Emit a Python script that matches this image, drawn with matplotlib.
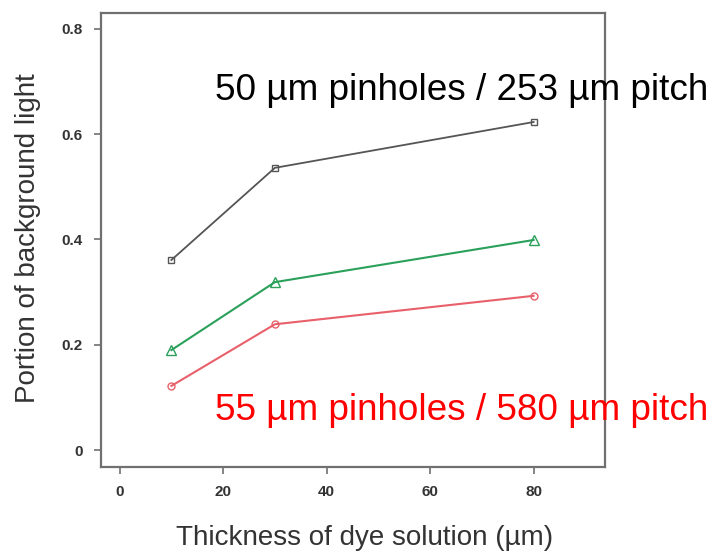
import matplotlib.pyplot as plt

# thickness of dye solution (um)
thickness = [10, 30, 80]
# portion of background light for the three configurations
black_vals = [0.361, 0.536, 0.623]
green_vals = [0.190, 0.319, 0.399]
red_vals = [0.122, 0.239, 0.293]

xticks = [0, 20, 40, 60, 80]
yticks = [0, 0.2, 0.4, 0.6, 0.8]
ytick_labels = ['0', '0.2', '0.4', '0.6', '0.8']

fig = plt.figure(figsize=(7.18, 5.53), dpi=100)
ax = fig.add_axes([0.1407, 0.1555, 0.7019, 0.8210])

ax.plot(thickness, black_vals, color='#555555', lw=1.3, marker='s', ms=5,
        mfc='none', mew=1.0)
ax.plot(thickness, green_vals, color='#2aa05a', lw=1.5, marker='^', ms=7,
        mfc='none', mew=1.0)
ax.plot(thickness, red_vals, color='#e8606a', lw=1.5, marker='o', ms=5,
        mfc='none', mew=1.0)

ax.set_xlim(-3.6, 93.8)
ax.set_ylim(-0.032, 0.83)
ax.set_xticks(xticks)
ax.set_yticks(yticks)
ax.set_yticklabels(ytick_labels)

for s in ax.spines.values():
    s.set_color('#707070')
    s.set_linewidth(1.6)
ax.tick_params(direction='out', length=5, width=1.2, color='#707070',
               labelcolor='#333333', labelsize=11, pad=8)
for lab in ax.get_xticklabels() + ax.get_yticklabels():
    lab.set_fontweight('bold')
    lab.set_family('Liberation Sans')

ax.set_xlabel('Thickness of dye solution (\u00b5m)', fontsize=20,
              color='#333333', family='Liberation Sans', va='center')
ax.set_ylabel('Portion of background light', fontsize=20,
              color='#333333', family='Liberation Sans', va='center')
ax.xaxis.set_label_coords(0.522, -0.156)
ax.yaxis.set_label_coords(-0.145, 0.505)

fig.text(0.299, 0.82, '50 \u00b5m pinholes / 253 \u00b5m pitch', fontsize=26.6,
         color='black', family='Liberation Sans')
fig.text(0.299, 0.24, '55 \u00b5m pinholes / 580 \u00b5m pitch', fontsize=26.6,
         color='#ff0000', family='Liberation Sans')

fig.savefig('out.png', dpi=100)
